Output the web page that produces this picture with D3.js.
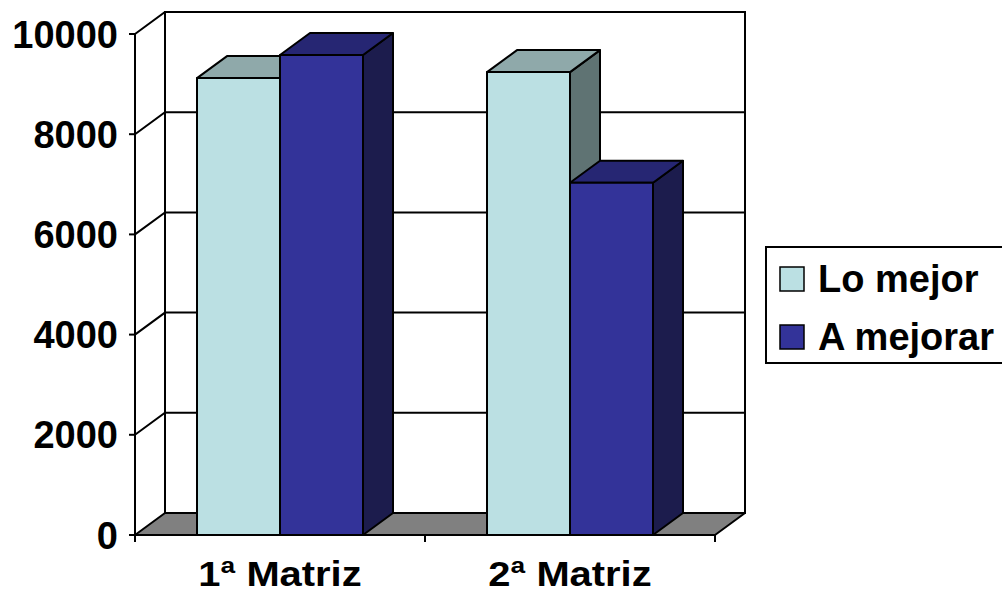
<!DOCTYPE html>
<html>
<head>
<meta charset="utf-8">
<script src="https://cdn.jsdelivr.net/npm/d3@7"></script>
<style>
  html, body { margin: 0; padding: 0; background: #fff; }
  svg { display: block; }
  text { font-family: "Liberation Sans", Arial, sans-serif; font-weight: bold; fill: #000; }
</style>
</head>
<body>
<svg id="chart" width="1002" height="595"></svg>
<script>
// Chart data
const categories = ["1ª Matriz", "2ª Matriz"];
const seriesNames = ["Lo mejor", "A mejorar"];
const loMejor = [9120, 9240];
const aMejorar = [9580, 7030];
const yTicks = [0, 2000, 4000, 6000, 8000, 10000];

const seriesValues = [loMejor, aMejorar];
const palette = [
  { front: "#BBE0E3", top: "#8FA9AA", side: "#5F7373" },
  { front: "#333399", top: "#262673", side: "#1C1C4D" }
];

const svg = d3.select("#chart");

// Front plane scales; the back plane is offset by (dx, dy)
const x0 = 135, x1 = 715, yBase = 535, yTop = 34;
const dx = 30, dy = -22;

const y = d3.scaleLinear().domain([0, 10000]).range([yBase, yTop]);
const gap = 124 / 290;
const x = d3.scaleBand().domain(categories).range([x0, x1])
  .paddingInner(gap).paddingOuter(gap / 2);
const xs = d3.scaleBand().domain(seriesNames).range([0, x.bandwidth()]);

const line = d3.line();
const stroke = "#000";

// Back wall
svg.append("rect")
  .attr("x", x0 + dx).attr("y", y(10000) + dy)
  .attr("width", x1 - x0).attr("height", y(0) - y(10000))
  .attr("fill", "#fff").attr("stroke", stroke).attr("stroke-width", 2);

// Gridlines: diagonal across the side wall, then across the back wall
yTicks.filter(t => t > 0).forEach(t => {
  svg.append("path")
    .attr("d", line([[x0, y(t)], [x0 + dx, y(t) + dy], [x1 + dx, y(t) + dy]]))
    .attr("fill", "none").attr("stroke", stroke).attr("stroke-width", 2);
});

// Floor
svg.append("path")
  .attr("d", line([[x0, y(0)], [x1, y(0)], [x1 + dx, y(0) + dy], [x0 + dx, y(0) + dy]]) + "Z")
  .attr("fill", "#808080").attr("stroke", stroke).attr("stroke-width", 2).attr("stroke-linejoin", "round");

// Value axis (front edge of the side wall)
svg.append("line")
  .attr("x1", x0).attr("x2", x0).attr("y1", y(0)).attr("y2", y(10000))
  .attr("stroke", stroke).attr("stroke-width", 2);

yTicks.forEach(t => {
  svg.append("line")
    .attr("x1", x0 - 6).attr("x2", x0).attr("y1", y(t)).attr("y2", y(t))
    .attr("stroke", stroke).attr("stroke-width", 2);
  svg.append("text")
    .attr("x", 118).attr("y", y(t)).attr("dy", "0.36em")
    .attr("text-anchor", "end").attr("font-size", 38)
    .text(t);
});

// Category axis
svg.append("line")
  .attr("x1", x0).attr("x2", x1).attr("y1", y(0)).attr("y2", y(0))
  .attr("stroke", stroke).attr("stroke-width", 2);
const boundaries = [x0, ...categories.map(c => x(c) + x.bandwidth() + x.step() * gap / 2)];
boundaries.forEach(bx => {
  svg.append("line")
    .attr("x1", bx).attr("x2", bx).attr("y1", y(0)).attr("y2", y(0) + 7)
    .attr("stroke", stroke).attr("stroke-width", 2);
});

// 3D columns
categories.forEach((c, ci) => {
  seriesNames.forEach((s, si) => {
    const v = seriesValues[si][ci];
    const bx0 = x(c) + xs(s), bx1 = bx0 + xs.bandwidth();
    const yt = y(v), yb = y(0);
    const col = palette[si];
    const g = svg.append("g").attr("stroke", stroke).attr("stroke-width", 2).attr("stroke-linejoin", "round");
    g.append("path")
      .attr("d", line([[bx1, yt], [bx1 + dx, yt + dy], [bx1 + dx, yb + dy], [bx1, yb]]) + "Z")
      .attr("fill", col.side);
    g.append("path")
      .attr("d", line([[bx0, yt], [bx1, yt], [bx1 + dx, yt + dy], [bx0 + dx, yt + dy]]) + "Z")
      .attr("fill", col.top);
    g.append("rect")
      .attr("x", bx0).attr("y", yt).attr("width", bx1 - bx0).attr("height", yb - yt)
      .attr("fill", col.front);
  });
  // Category label, drawn slightly wide
  const cx = x(c) + x.bandwidth() / 2;
  svg.append("text")
    .attr("transform", `translate(${cx},586) scale(1.14,1)`)
    .attr("text-anchor", "middle").attr("font-size", 35)
    .text(c);
});

// Legend
const legend = svg.append("g");
legend.append("rect")
  .attr("x", 766).attr("y", 247).attr("width", 260).attr("height", 116)
  .attr("fill", "#fff").attr("stroke", stroke).attr("stroke-width", 2);
seriesNames.forEach((s, i) => {
  const ly = 267 + i * 58;
  legend.append("rect")
    .attr("x", 780).attr("y", ly).attr("width", 24).attr("height", 24)
    .attr("fill", palette[i].front).attr("stroke", stroke).attr("stroke-width", 1.5);
  legend.append("text")
    .attr("x", 818).attr("y", ly + 25)
    .attr("font-size", 38)
    .text(s);
});
</script>
</body>
</html>
